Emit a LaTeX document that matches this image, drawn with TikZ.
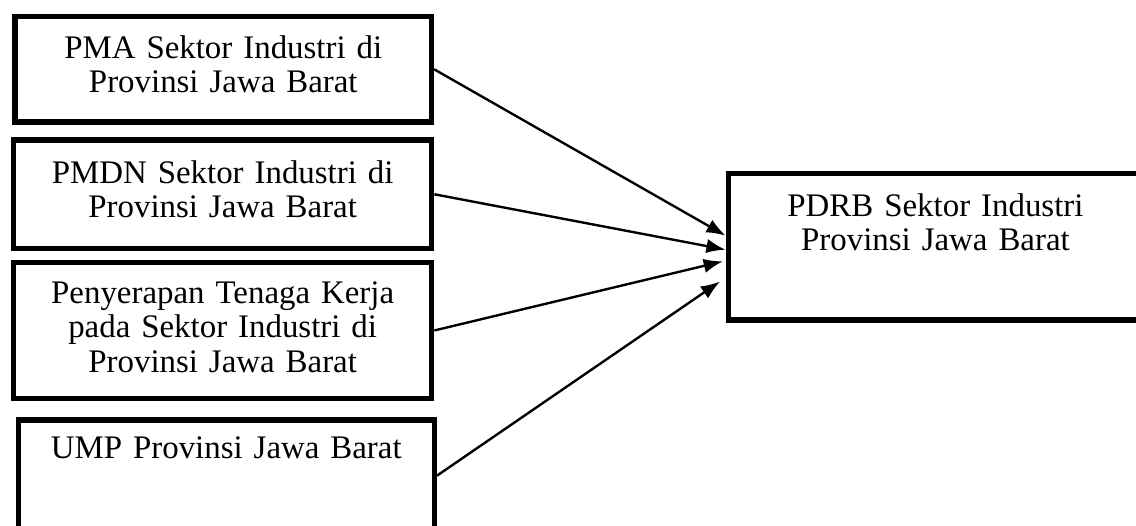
\documentclass[tikz,border=0pt]{standalone}
\usepackage{fontspec}
\setmainfont{Liberation Serif}
\usetikzlibrary{arrows.meta}
\tikzset{
  flowarrow/.style={-{Latex[length=4.8mm, width=3.6mm]}, line width=1.7pt},
  varbox/.style={draw, line width=3.8pt, anchor=north west, inner sep=0pt, align=center, text width=10.45cm, font=\fontsize{23.4}{24.4}\selectfont}
}

\begin{document}
\begin{tikzpicture}
  \clip (0,0) rectangle (28.4,13.125);
  \node[varbox, text width=10.41cm, text height=1.05cm, text depth=1.59cm] (pma) at (0.31,12.78) {PMA Sektor Industri di\\Provinsi Jawa Barat};
  \node[varbox, text height=1.08cm, text depth=1.63cm] (pmdn) at (0.275,9.69) {PMDN Sektor Industri di\\Provinsi Jawa Barat};
  \node[varbox, text height=1.02cm, text depth=2.37cm] (tk) at (0.275,6.625) {Penyerapan Tenaga Kerja\\pada Sektor Industri di\\Provinsi Jawa Barat};
  \node[varbox, text width=10.4cm, text height=0.97cm, text depth=1.81cm] (ump) at (0.39,2.69) {UMP Provinsi Jawa Barat};
  \node[varbox, text width=10.36cm, text height=1.07cm, text depth=2.59cm] (pdrb) at (18.14,8.85) {PDRB Sektor Industri\\Provinsi Jawa Barat};
  \draw[flowarrow] (pma.east) -- ([yshift=2.8mm]pdrb.west);
  \draw[flowarrow] (pmdn.east) -- ([yshift=-0.7mm]pdrb.west);
  \draw[flowarrow, shorten >=0.7mm] (tk.east) -- ([yshift=-3.45mm]pdrb.west);
  \draw[flowarrow, shorten >=1.7mm] (ump.east) -- ([yshift=-7.7mm]pdrb.west);
\end{tikzpicture}
\end{document}
